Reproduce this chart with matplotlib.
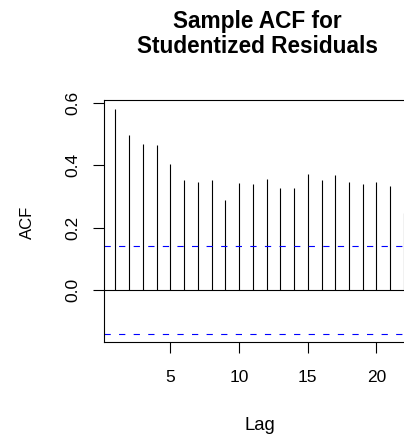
import numpy as np
import matplotlib
matplotlib.use("Agg")
import matplotlib.pyplot as plt

plt.rcParams['font.family'] = ['Liberation Sans', 'DejaVu Sans']
plt.rcParams['lines.scale_dashes'] = False

# sample ACF of studentized residuals, lags 1..22
lags = np.arange(1, 23)
acfVals = [0.581, 0.497, 0.468, 0.464, 0.406, 0.353, 0.347, 0.353, 0.289, 0.342, 0.341,
           0.356, 0.326, 0.328, 0.373, 0.352, 0.369, 0.347, 0.341, 0.347, 0.334, 0.248]
confBand = 0.14
xTicks = [5, 10, 15, 20]
yTicks = [0.0, 0.2, 0.4, 0.6]

W, H = 404, 436
fig = plt.figure(figsize=(W / 100, H / 100), dpi=100)
# plot region in pixels: left 104, right 416.6 (runs past the image), top 100, bottom 342
ax = fig.add_axes([104 / W, (H - 342) / H, 312.6 / W, 242 / H])

ax.vlines(lags, 0, acfVals, color='black', lw=0.8)
ax.axhline(0, color='black', lw=0.8)
for c in (confBand, -confBand):
    ax.axhline(c, color='#0000FF', lw=0.8, linestyle=(0, (4.5, 6.0)))

ax.set_xlim(0.17, 22.92)
ax.set_ylim(-0.167, 0.610)
ax.set_xticks(xTicks)
ax.set_yticks(yTicks)
ax.set_xticklabels([str(t) for t in xTicks])
ax.set_yticklabels(['%.1f' % t for t in yTicks])
for s in ax.spines.values():
    s.set_linewidth(0.8)
ax.tick_params(axis='both', direction='out', length=8, width=0.8, labelsize=12.5, colors='black')
ax.tick_params(axis='x', pad=12.3)
ax.tick_params(axis='y', pad=8.8)
plt.setp(ax.get_yticklabels(), rotation=90, va='center')

fig.text(257 / W, (H - 27.7) / H, 'Sample ACF for', ha='center', va='baseline',
         fontsize=16.3, fontweight='bold')
fig.text(257 / W, (H - 52.7) / H, 'Studentized Residuals', ha='center', va='baseline',
         fontsize=16.3, fontweight='bold')
fig.text(260 / W, (H - 430) / H, 'Lag', ha='center', va='baseline', fontsize=13.3)
fig.text(31.7 / W, (H - 222) / H, 'ACF', ha='center', va='baseline', fontsize=12,
         rotation=90, rotation_mode='anchor')

fig.savefig('out.png', dpi=100)
